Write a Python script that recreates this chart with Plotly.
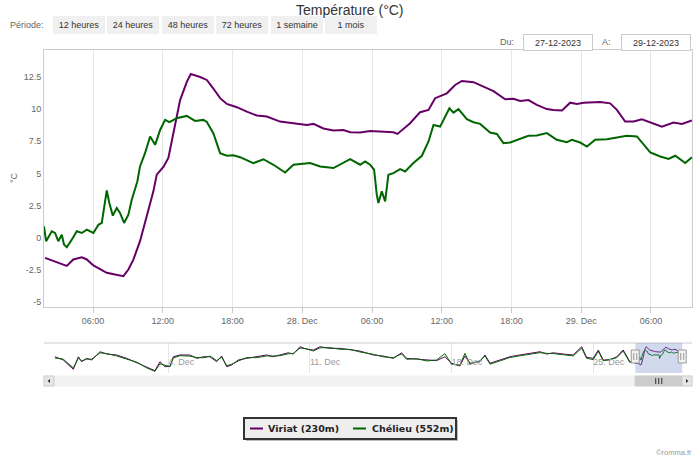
import pandas as pd
import plotly.graph_objects as go

W, H = 700, 462


def px(x):
    return x / W


def py(y):
    return 1 - y / H


BASE = pd.Timestamp("2023-12-27 00:00")
NAV_BASE = pd.Timestamp("2023-12-01 00:00")

series_names = ["Viriat (230m)", "Chélieu (552m)"]
series_colors = ["#660066", "#006600"]

# hours since 27 Dec 2023 00:00
viriat_h = [1.87, 2.58, 3.44, 3.74, 4.30, 5.03, 5.46, 6.03, 6.60, 7.18, 7.89, 8.61, 9.04, 9.47,
            10.04, 10.62, 11.19, 11.48, 12.05, 12.48, 12.91, 13.49, 14.06, 14.41, 15.21, 15.79,
            16.35, 16.93, 17.51, 18.37, 19.23, 20.09, 20.95, 22.09, 23.24, 24.39, 24.96, 25.82,
            26.68, 27.54, 28.12, 28.98, 29.84, 31.84, 32.19, 33.28, 34.14, 34.86, 35.43, 36.44,
            37.15, 37.73, 38.73, 39.59, 40.45, 41.46, 42.17, 42.75, 43.46, 44.18, 45.04, 45.61,
            46.34, 47.05, 47.63, 48.20, 49.63, 50.49, 51.07, 51.78, 52.50, 53.22, 53.94, 54.94,
            55.94, 56.66, 57.52]
viriat_t = [-1.58, -1.84, -2.10, -2.20, -1.70, -1.53, -1.70, -2.17, -2.43, -2.74, -2.87, -3.00, -2.48, -1.71,
            -0.28, 1.66, 3.60, 4.90, 5.50, 6.20, 8.10, 10.70, 12.10, 12.73, 12.50, 12.27,
            11.60, 10.85, 10.40, 10.15, 9.80, 9.50, 9.42, 9.03, 8.90, 8.77, 8.85, 8.49,
            8.33, 8.38, 8.20, 8.18, 8.30, 8.20, 8.07, 8.90, 9.76, 9.94, 10.85, 11.23,
            11.88, 12.19, 12.10, 11.75, 11.40, 10.77, 10.80, 10.63, 10.70, 10.33, 10.00, 9.94,
            9.89, 10.50, 10.40, 10.50, 10.56, 10.45, 9.94, 9.03, 9.03, 9.21, 8.98, 8.64,
            8.95, 8.85, 9.11]

chelieu_h = [1.78, 1.96, 2.45, 2.73, 3.01, 3.31, 3.50, 3.74, 4.17, 4.60, 5.03, 5.46, 6.03, 6.46,
             6.75, 6.95, 7.18, 7.40, 7.70, 8.04, 8.32, 8.67, 9.04, 9.33, 9.61, 9.81, 10.04, 10.47,
             10.91, 11.34, 11.77, 12.20, 12.57, 13.20, 14.06, 14.78, 15.49, 15.79, 16.35, 16.93,
             17.51, 18.07, 18.65, 19.79, 20.66, 21.52, 22.52, 23.24, 24.67, 25.54, 26.68, 27.26,
             28.12, 28.98, 29.41, 29.84, 30.18, 30.41, 30.55, 30.84, 31.13, 31.41, 31.84, 32.42,
             32.85, 33.56, 34.29, 34.86, 35.29, 35.86, 36.29, 36.66, 37.01, 37.44, 38.16, 38.73,
             39.30, 40.16, 40.74, 41.31, 41.89, 42.75, 43.46, 44.18, 45.04, 45.90, 46.76, 47.19,
             47.91, 48.49, 49.20, 50.21, 51.07, 51.93, 52.79, 53.36, 53.94, 54.80, 55.51, 56.09,
             56.52, 56.95, 57.52]
chelieu_t = [0.88, -0.28, 0.49, 0.36, -0.28, 0.23, -0.54, -0.75, -0.16, 0.49, 0.36, 0.62, 0.36, 1.00,
             1.14, 2.43, 3.67, 2.69, 1.71, 2.30, 1.92, 1.14, 1.79, 2.95, 3.86, 4.37, 5.54, 6.57,
             7.87, 7.22, 8.38, 9.16, 8.98, 9.29, 9.47, 9.08, 9.16, 9.00, 8.13, 6.57,
             6.37, 6.40, 6.26, 5.80, 6.10, 5.67, 5.07, 5.67, 5.80, 5.54, 5.41, 5.70,
             6.10, 5.67, 5.93, 5.67, 5.28, 3.34, 2.69, 3.60, 2.82, 4.89, 5.02, 5.33,
             5.15, 5.80, 6.37, 7.48, 8.77, 8.64, 9.42, 10.07, 9.73, 10.00, 9.21, 8.98,
             8.85, 8.18, 8.07, 7.35, 7.40, 7.66, 7.92, 7.95, 8.13, 7.61, 7.43, 7.61,
             7.40, 7.09, 7.61, 7.66, 7.79, 7.92, 7.87, 7.22, 6.63, 6.31, 6.13, 6.37,
             6.08, 5.80, 6.26]

# navigator history: days since 1 Dec 2023 00:00
nav_days = [-2.60, -2.19, -1.69, -1.44, -1.28, -1.03, -0.78, -0.37, -0.04, 0.45,
            0.95, 1.44, 1.93, 2.34, 2.59, 2.84, 3.09, 3.25, 3.58, 4.07,
            4.41, 4.73, 5.06, 5.39, 5.64, 5.89, 6.13, 6.46, 6.88, 7.37,
            7.86, 8.19, 8.52, 8.93, 9.18, 9.51, 9.84, 10.17, 10.50, 10.99,
            11.48, 11.98, 12.47, 13.13, 13.62, 14.12, 14.53, 14.78, 15.27, 15.77,
            16.26, 16.67, 17.00, 17.41, 17.66, 17.91, 18.40, 18.65, 18.90, 19.39,
            19.88, 20.38, 20.87, 21.37, 21.70, 22.02, 22.52, 23.01, 23.43, 23.67,
            24.00, 24.25, 24.49, 24.83, 25.16, 25.48, 25.81]
nav_viriat = [4.1, 1.3, -6.7, 4.1, -0.2, 2.7, 1.3, 8.4, 6.4, 5.6,
              2.7, -1.0, -4.5, -7.9, -0.2, -4.5, -3.9, 4.1, 5.6, 5.6,
              2.7, 4.1, 4.1, -0.2, 4.7, -4.5, -3.0, 1.3, 2.7, 4.1,
              5.6, 4.1, 5.6, 7.5, 6.4, 12.7, 10.5, 9.9, 12.7, 11.3,
              11.3, 9.9, 9.0, 5.6, 4.7, 2.7, 7.5, 2.7, 1.9, 1.3,
              0.7, 4.1, -1.5, -3.9, 4.7, -1.5, -0.2, 5.6, -1.5, 1.3,
              4.1, 5.6, 7.0, 8.4, 6.4, 7.5, 6.4, 5.6, 12.7, 3.6,
              2.7, 9.9, 1.3, 1.3, 4.1, 9.9, -0.2]
nav_chelieu = [3.0, 2.0, -5.5, 3.0, 0.5, 2.0, 2.0, 7.5, 6.8, 4.8,
               2.0, -0.5, -5.5, -8.5, -2.0, -3.5, -4.5, 3.0, 5.0, 4.6,
               3.4, 3.2, 4.6, 0.8, 3.6, -3.6, -2.4, 0.4, 3.4, 3.3,
               4.8, 4.7, 5.0, 6.6, 7.0, 11.6, 10.9, 9.0, 11.8, 11.9,
               10.5, 10.4, 8.2, 6.2, 4.0, 3.3, 6.5, 1.9, 2.4, 0.5,
               1.3, 6.8, -2.5, -3.0, 7.0, -2.2, 0.6, 4.8, -2.3, 0.5,
               3.4, 4.9, 6.3, 7.6, 7.0, 6.8, 5.8, 4.8, 11.5, 2.8,
               1.6, 8.8, 0.6, 2.1, 3.2, 9.0, -0.9]
assert len(nav_days) == len(nav_viriat) == len(nav_chelieu)
assert len(viriat_h) == len(viriat_t) and len(chelieu_h) == len(chelieu_t)

x_tick_times = ["2023-12-27 06:00", "2023-12-27 12:00", "2023-12-27 18:00", "2023-12-28 00:00",
                "2023-12-28 06:00", "2023-12-28 12:00", "2023-12-28 18:00", "2023-12-29 00:00",
                "2023-12-29 06:00"]
x_tick_labels = ["06:00", "12:00", "18:00", "28. Dec", "06:00", "12:00", "18:00", "29. Dec", "06:00"]
y_tick_vals = [-5, -2.5, 0, 2.5, 5, 7.5, 10, 12.5]
y_tick_labels = ["-5", "-2.5", "0", "2.5", "5", "7.5", "10", "12.5"]
nav_tick_times = ["2023-12-04", "2023-12-11", "2023-12-18", "2023-12-25"]
nav_tick_labels = ["4. Dec", "11. Dec", "18. Dec", "25. Dec"]
period_buttons = ["12 heures", "24 heures", "48 heures", "72 heures", "1 semaine", "1 mois"]
date_from, date_to = "27-12-2023", "29-12-2023"

vx = BASE + pd.to_timedelta(viriat_h, unit="h")
cx = BASE + pd.to_timedelta(chelieu_h, unit="h")
nx = NAV_BASE + pd.to_timedelta(nav_days, unit="D")

FONT = "Liberation Sans, Arial, sans-serif"

fig = go.Figure()
fig.add_trace(go.Scatter(x=vx, y=viriat_t, mode="lines", name=series_names[0], showlegend=False,
                         line=dict(color=series_colors[0], width=2)))
fig.add_trace(go.Scatter(x=cx, y=chelieu_t, mode="lines", name=series_names[1], showlegend=False,
                         line=dict(color=series_colors[1], width=2)))
fig.add_trace(go.Scatter(x=list(nx) + list(vx), y=nav_viriat + viriat_t, mode="lines",
                         xaxis="x2", yaxis="y2", showlegend=False, hoverinfo="skip",
                         name=series_names[0] + " (navigateur)",
                         line=dict(color=series_colors[0], width=1)))
fig.add_trace(go.Scatter(x=list(nx) + list(cx), y=nav_chelieu + chelieu_t, mode="lines",
                         xaxis="x2", yaxis="y2", showlegend=False, hoverinfo="skip",
                         name=series_names[1] + " (navigateur)",
                         line=dict(color=series_colors[1], width=1)))

t_start = min(vx[0], cx[0])
t_end = max(vx[-1], cx[-1])
t_mid = t_start + (t_end - t_start) / 2

shapes = []
# navigator top line
shapes.append(dict(type="line", xref="paper", yref="paper", x0=px(44), x1=px(692), y0=py(343), y1=py(343),
                   line=dict(color="#cccccc", width=1)))
# mask
shapes.append(dict(type="rect", xref="x2", yref="paper", x0=t_start, x1=t_end, y0=py(373), y1=py(343),
                   fillcolor="rgba(102,133,194,0.3)", line=dict(width=0), layer="above"))
# handles
for anchor in (t_start, t_end):
    shapes.append(dict(type="rect", xref="x2", xsizemode="pixel", xanchor=anchor, x0=-4, x1=4,
                       yref="paper", y0=py(363), y1=py(350), fillcolor="#f2f2f2",
                       line=dict(color="#999999", width=1), layer="above"))
    for off in (-1.5, 1.5):
        shapes.append(dict(type="line", xref="x2", xsizemode="pixel", xanchor=anchor, x0=off, x1=off,
                           yref="paper", y0=py(360), y1=py(353), line=dict(color="#999999", width=1),
                           layer="above"))
# scrollbar track
shapes.append(dict(type="rect", xref="paper", yref="paper", x0=px(44), x1=px(692), y0=py(386), y1=py(376),
                   fillcolor="#f2f2f2", line=dict(color="#f2f2f2", width=1)))
# scrollbar thumb
shapes.append(dict(type="rect", xref="x2", yref="paper", x0=t_start, x1=t_end, y0=py(386), y1=py(376),
                   fillcolor="#cccccc", line=dict(color="#cccccc", width=1)))
for off in (-3, 0, 3):
    shapes.append(dict(type="line", xref="x2", xsizemode="pixel", xanchor=t_mid, x0=off, x1=off,
                       yref="paper", y0=py(384), y1=py(378), line=dict(color="#333333", width=1)))
# scrollbar buttons
for a, b in ((44, 54), (682, 692)):
    shapes.append(dict(type="rect", xref="paper", yref="paper", x0=px(a), x1=px(b), y0=py(386), y1=py(376),
                       fillcolor="#e6e6e6", line=dict(color="#cccccc", width=1)))
shapes.append(dict(type="path", xref="paper", yref="paper",
                   path=f"M{px(47.5)},{py(381)} L{px(50)},{py(379)} L{px(50)},{py(383)} Z",
                   fillcolor="#333333", line=dict(width=0)))
shapes.append(dict(type="path", xref="paper", yref="paper",
                   path=f"M{px(688.5)},{py(381)} L{px(686)},{py(379)} L{px(686)},{py(383)} Z",
                   fillcolor="#333333", line=dict(width=0)))

# legend box (drawn like the Highcharts legend)
shapes.append(dict(type="rect", xref="paper", yref="paper", x0=px(246), x1=px(458), y0=py(441), y1=py(420),
                   fillcolor="#bbbbbb", line=dict(width=0)))  # shadow
shapes.append(dict(type="rect", xref="paper", yref="paper", x0=px(244), x1=px(456), y0=py(439), y1=py(418),
                   fillcolor="#eeeeee", line=dict(color="#333333", width=2)))
legend_items = [(250, 266), (353, 370)]
annotations = []
for (lx, tx), name, col in zip(legend_items, series_names, series_colors):
    shapes.append(dict(type="line", xref="paper", yref="paper", x0=px(lx), x1=px(lx + 13),
                       y0=py(428.5), y1=py(428.5), line=dict(color=col, width=2)))
    annotations.append(dict(text=name, x=px(tx), y=py(428.5), xref="paper", yref="paper",
                            xanchor="left", yanchor="middle", showarrow=False,
                            font=dict(family="DejaVu Sans", size=9.5, color="#222222", weight="bold")))

annotations.append(dict(text="Température (°C)", x=0.5, y=py(10), xref="paper", yref="paper",
                        xanchor="center", yanchor="middle", showarrow=False,
                        font=dict(family=FONT, size=14, color="#333333")))
annotations.append(dict(text="Période:", x=px(8), y=py(25), xref="paper", yref="paper",
                        xanchor="left", yanchor="middle", showarrow=False,
                        font=dict(family=FONT, size=9, color="#666666")))
for i, lab in enumerate(period_buttons):
    annotations.append(dict(text=lab, x=px(79 + 54.4 * i), y=py(25), xref="paper", yref="paper",
                            xanchor="center", yanchor="middle", showarrow=False, width=48, height=14,
                            bgcolor="#f0f0f0", bordercolor="#f0f0f0", borderwidth=1, borderpad=1,
                            font=dict(family=FONT, size=9, color="#333333")))
annotations.append(dict(text="Du:", x=px(516), y=py(42), xref="paper", yref="paper",
                        xanchor="right", yanchor="middle", showarrow=False,
                        font=dict(family=FONT, size=9, color="#666666")))
annotations.append(dict(text="A:", x=px(613), y=py(42), xref="paper", yref="paper",
                        xanchor="right", yanchor="middle", showarrow=False,
                        font=dict(family=FONT, size=9, color="#666666")))
for cxp, txt in ((558, date_from), (656, date_to)):
    annotations.append(dict(text=txt, x=px(cxp), y=py(42), xref="paper", yref="paper",
                            xanchor="center", yanchor="middle", showarrow=False, width=66, height=13,
                            bgcolor="#ffffff", bordercolor="#cccccc", borderwidth=1, borderpad=1,
                            font=dict(family=FONT, size=9, color="#333333")))
annotations.append(dict(text="°C", x=px(14), y=py(178), xref="paper", yref="paper",
                        xanchor="center", yanchor="middle", showarrow=False, textangle=-90,
                        font=dict(family=FONT, size=9, color="#666666")))
annotations.append(dict(text="©romma.fr", x=px(694), y=py(452), xref="paper", yref="paper",
                        xanchor="right", yanchor="middle", showarrow=False,
                        font=dict(family=FONT, size=7.5, color="#999999")))

fig.update_layout(
    width=W, height=H,
    margin=dict(l=0, r=0, t=0, b=0),
    paper_bgcolor="white", plot_bgcolor="white",
    font=dict(family=FONT, size=9, color="#666666"),
    xaxis=dict(domain=[px(44), px(692)], anchor="y", type="date",
               range=[BASE + pd.Timedelta(hours=1.78), BASE + pd.Timedelta(hours=57.53)],
               tickmode="array", tickvals=x_tick_times, ticktext=x_tick_labels,
               showgrid=True, gridcolor="#e6e6e6", gridwidth=1,
               showline=True, linecolor="#cccccc", linewidth=1, mirror=True,
               ticks="outside", ticklen=5, tickcolor="#cccccc",
               tickfont=dict(family=FONT, size=9, color="#666666"), zeroline=False, fixedrange=True),
    yaxis=dict(domain=[py(307), py(50)], anchor="x", range=[-5.4, 14.6],
               tickmode="array", tickvals=y_tick_vals, ticktext=y_tick_labels,
               showgrid=False, showline=True, linecolor="#cccccc", linewidth=1, mirror=True,
               ticks="", tickfont=dict(family=FONT, size=9, color="#666666"), zeroline=False,
               fixedrange=True),
    xaxis2=dict(domain=[px(44), px(692)], anchor="y2", type="date",
                range=[NAV_BASE + pd.Timedelta(days=-3.14), NAV_BASE + pd.Timedelta(days=28.88)],
                tickmode="array", tickvals=nav_tick_times, ticktext=nav_tick_labels,
                ticklabelposition="inside right",
                showgrid=True, gridcolor="#e6e6e6", showline=False, ticks="",
                tickfont=dict(family=FONT, size=9, color="#999999"), zeroline=False, fixedrange=True),
    yaxis2=dict(domain=[py(373), py(343)], anchor="x2", range=[-9.9, 15.9],
                showgrid=False, showticklabels=False, showline=False, zeroline=False, ticks="",
                fixedrange=True),
    showlegend=False,
    shapes=shapes,
    annotations=annotations,
)

fig.write_html("out.html")
